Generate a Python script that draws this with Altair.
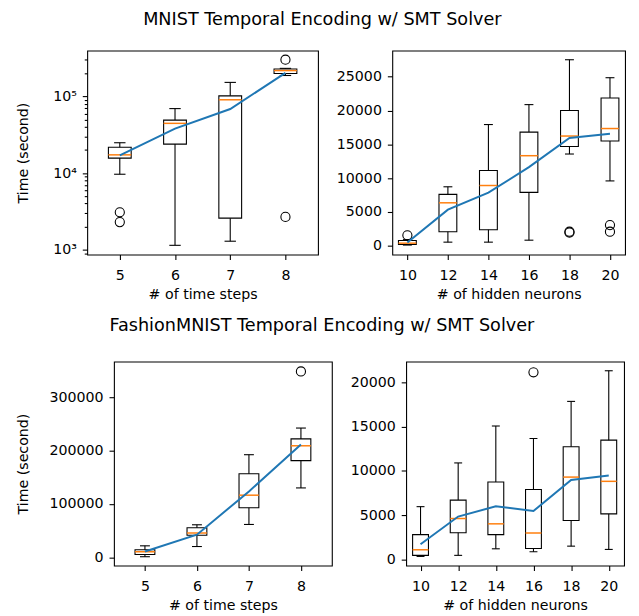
import altair as alt
import pandas as pd

# ---------------- data ----------------
# MNIST, # of time steps (log scale)
tl_x = [5, 6, 7, 8]
tl_lo = [9660, 1140, 1290, 188000]
tl_q1 = [15700, 23900, 2580, 199500]
tl_med = [17300, 44600, 90600, 218000]
tl_q3 = [21700, 49200, 102000, 229000]
tl_hi = [24900, 69500, 152800, 233000]
tl_mean = [17000, 38000, 68700, 203000]
tl_out_x = [5, 5, 8, 8]
tl_out_y = [3080, 2290, 302000, 2680]

# MNIST, # of hidden neurons
tr_x = [10, 12, 14, 16, 18, 20]
tr_lo = [100, 530, 530, 820, 13570, 9590]
tr_q1 = [190, 2080, 2370, 7900, 14680, 15500]
tr_med = [380, 6350, 8910, 13320, 16230, 17340]
tr_q3 = [770, 7600, 11140, 16810, 20010, 21850]
tr_hi = [900, 8720, 17930, 20880, 27520, 24860]
tr_mean = [480, 5330, 7850, 11630, 15940, 16570]
tr_out_x = [10, 18, 18, 20, 20]
tr_out_y = [1550, 2080, 1940, 3050, 2080]

# FashionMNIST, # of time steps
bl_x = [5, 6, 7, 8]
bl_lo = [1200, 20300, 61600, 130000]
bl_q1 = [5500, 41300, 93000, 181100]
bl_med = [10500, 45600, 116400, 208900]
bl_q3 = [14200, 55500, 156500, 221800]
bl_hi = [21600, 61000, 192200, 242100]
bl_mean = [11000, 42500, 123500, 211300]
bl_out_x = [8]
bl_out_y = [348100]

# FashionMNIST, # of hidden neurons
br_x = [10, 12, 14, 16, 18, 20]
br_lo = [330, 450, 1190, 855, 1490, 1120]
br_q1 = [450, 3010, 2790, 1230, 4390, 5130]
br_med = [1080, 4610, 4010, 2970, 9290, 8810]
br_q3 = [2790, 6690, 8740, 7880, 12710, 13460]
br_hi = [5950, 10890, 15060, 13640, 17840, 21300]
br_mean = [1710, 4830, 5990, 5460, 8960, 9480]
br_out_x = [16]
br_out_y = [21120]

title_top = "MNIST Temporal Encoding w/ SMT Solver"
title_bottom = "FashionMNIST Temporal Encoding w/ SMT Solver"
xtitle_steps = "# of time steps"
xtitle_neurons = "# of hidden neurons"
ytitle = "Time (second)"

FONT = "DejaVu Sans"
FS = 14.3
TFS = 17.8
BLUE = "#1f77b4"
ORANGE = "#ff7f0e"

log_major = [1000, 10000, 100000]
log_minor = [900, 2000, 3000, 4000, 5000, 6000, 7000, 8000, 9000,
             20000, 30000, 40000, 50000, 60000, 70000, 80000, 90000,
             200000, 300000]


def panel(xs, lo, q1, med, q3, hi, mean, ox, oy, xdomain, ydomain, ylog,
          yticks, xtitle, show_ytitle, w, h, boxw, yextent):
    df = pd.DataFrame({"x": xs, "lo": lo, "q1": q1, "med": med, "q3": q3,
                       "hi": hi, "mean": mean})
    dout = pd.DataFrame({"x": ox, "y": oy})
    xscale = alt.Scale(domain=xdomain, nice=False, zero=False)
    common = dict(values=yticks, title=ytitle if show_ytitle else None,
                  grid=False, titlePadding=10, minExtent=yextent,
                  maxExtent=yextent, labelPadding=6)
    if ylog:
        yscale = alt.Scale(type="log", domain=ydomain, nice=False)
        yaxis = alt.Axis(
            labelExpr="datum.value == 1000 ? '10³' : datum.value == 10000 ? '10⁴' : datum.value == 100000 ? '10⁵' : ''",
            tickSize={"condition": {"test": "datum.value == 1000 || datum.value == 10000 || datum.value == 100000", "value": 5}, "value": 3},
            **common)
    else:
        yscale = alt.Scale(domain=ydomain, nice=False, zero=False)
        yaxis = alt.Axis(format="d", **common)
    xaxis = alt.Axis(values=xs, format="d", title=xtitle, grid=False,
                     titlePadding=5, labelPadding=9)
    X = alt.X("x:Q", scale=xscale, axis=xaxis)
    base = alt.Chart(df)
    wlo = base.mark_rule(color="black", strokeWidth=1.1).encode(
        x=X, y=alt.Y("lo:Q", scale=yscale, axis=yaxis), y2="q1:Q")
    whi = base.mark_rule(color="black", strokeWidth=1.1).encode(
        x=X, y=alt.Y("q3:Q", scale=yscale), y2="hi:Q")
    cap_lo = base.mark_tick(orient="horizontal", color="black", size=boxw / 2,
                            thickness=1.1, opacity=1).encode(
        x=X, y=alt.Y("lo:Q", scale=yscale))
    cap_hi = base.mark_tick(orient="horizontal", color="black", size=boxw / 2,
                            thickness=1.1, opacity=1).encode(
        x=X, y=alt.Y("hi:Q", scale=yscale))
    box = base.mark_bar(size=boxw, fill="white", fillOpacity=0,
                        stroke="black", strokeWidth=1.1).encode(
        x=X, y=alt.Y("q1:Q", scale=yscale), y2="q3:Q")
    medl = base.mark_tick(orient="horizontal", color=ORANGE, size=boxw,
                          thickness=1.5, opacity=1).encode(
        x=X, y=alt.Y("med:Q", scale=yscale))
    out = alt.Chart(dout).mark_point(shape="circle", filled=False,
                                     color="black", size=85, strokeWidth=1.1,
                                     opacity=1).encode(
        x=X, y=alt.Y("y:Q", scale=yscale))
    line = base.mark_line(color=BLUE, strokeWidth=2).encode(
        x=X, y=alt.Y("mean:Q", scale=yscale))
    return alt.layer(wlo, whi, cap_lo, cap_hi, box, medl, out, line).properties(
        width=w, height=h)


def spacer():
    # invisible 1px-wide cell so that each row is laid out flush from its left edge
    return alt.Chart(pd.DataFrame({"s": [0]})).mark_point(opacity=0).encode(
        x=alt.X("s:Q", axis=None), y=alt.Y("s:Q", axis=None)
    ).properties(width=1, height=1,
                 view=alt.ViewBackground(stroke="transparent", fill="transparent"))


tl = panel(tl_x, tl_lo, tl_q1, tl_med, tl_q3, tl_hi, tl_mean, tl_out_x, tl_out_y,
           [4.5, 8.5], [863, 398000], True, log_major + log_minor,
           xtitle_steps, True, 233, 206, 23, 47)
tr = panel(tr_x, tr_lo, tr_q1, tr_med, tr_q3, tr_hi, tr_mean, tr_out_x, tr_out_y,
           [9.5, 20.5], [-1310, 28880], False, [0, 5000, 10000, 15000, 20000, 25000],
           xtitle_neurons, False, 235, 206, 18, 57)
bl = panel(bl_x, bl_lo, bl_q1, bl_med, bl_q3, bl_hi, bl_mean, bl_out_x, bl_out_y,
           [4.5, 8.5], [-15400, 366600], False, [0, 100000, 200000, 300000],
           xtitle_steps, True, 220, 206, 20, 74)
br = panel(br_x, br_lo, br_q1, br_med, br_q3, br_hi, br_mean, br_out_x, br_out_y,
           [9.5, 20.55], [-706, 22340], False, [0, 5000, 10000, 15000, 20000],
           xtitle_neurons, False, 220, 206, 16, 57)

row1 = alt.hconcat(spacer(), tl, tr, spacing=16).properties(
    title=alt.TitleParams(title_top, fontSize=TFS, font=FONT, fontWeight="normal",
                          anchor="middle", offset=19, dx=13, color="black"))
row2 = alt.hconcat(spacer(), bl, br, spacing=16).properties(
    title=alt.TitleParams(title_bottom, fontSize=TFS, font=FONT, fontWeight="normal",
                          anchor="middle", offset=24, dx=13, color="black"))

chart = alt.vconcat(row1, row2, spacing=14).properties(
    padding={"left": -15, "top": 0, "right": 5, "bottom": 5}
).configure_view(
    stroke="black", strokeWidth=1.1
).configure_axis(
    labelFont=FONT, labelFontSize=FS, labelColor="black",
    titleFont=FONT, titleFontSize=FS, titleColor="black", titleFontWeight="normal",
    domain=False, tickColor="black", tickWidth=1.1, tickSize=5,
    labelFlush=False, labelOverlap=False
).configure_axisY(labelBaseline="middle")

chart.save("out.html", embed_options={"renderer": "svg", "actions": False})
